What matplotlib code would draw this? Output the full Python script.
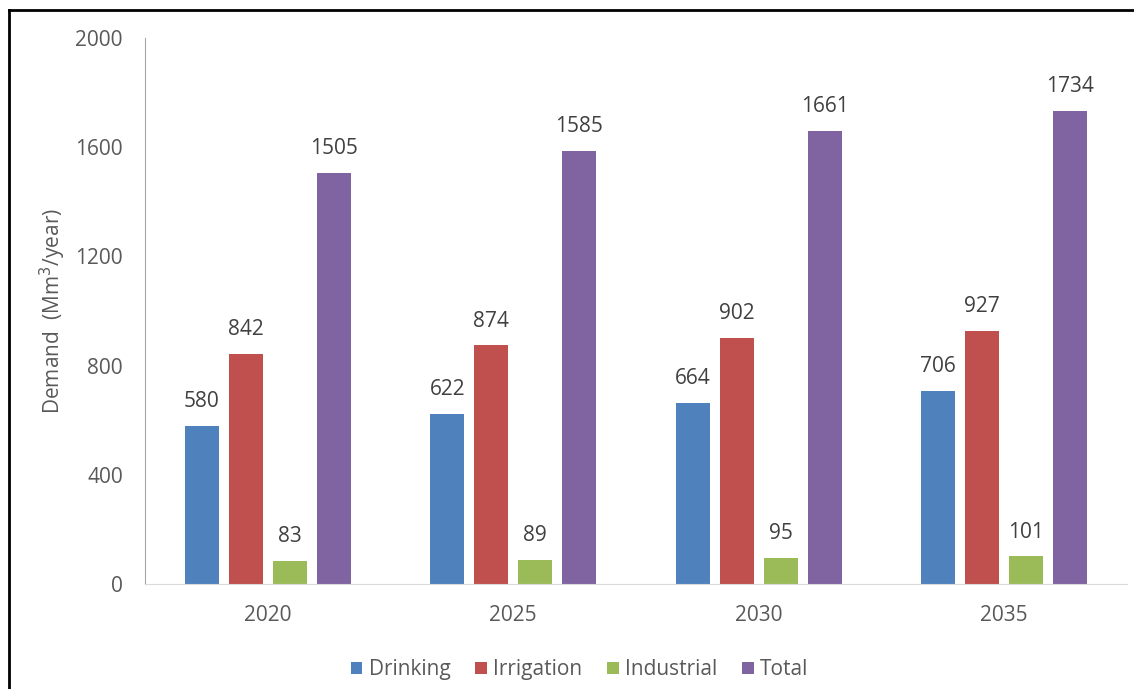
import numpy as np
import matplotlib.pyplot as plt
from matplotlib.lines import Line2D

plt.rcParams['font.family'] = ['Open Sans', 'DejaVu Sans']

# 데이터
years = ['2020', '2025', '2030', '2035']
drinking = [580, 622, 664, 706]
irrigation = [842, 874, 902, 927]
industrial = [83, 89, 95, 101]
total = [1505, 1585, 1661, 1734]

series = [('Drinking', drinking, '#4F81BD'),
          ('Irrigation', irrigation, '#C0504D'),
          ('Industrial', industrial, '#9BBB59'),
          ('Total', total, '#8064A2')]

text_color = '#595959'

fig = plt.figure(figsize=(11.34, 6.89), dpi=100)
ax = fig.add_axes([0.1279, 0.1524, 0.8659, 0.7924])

x = np.arange(len(years))
width = 0.139
step = 0.179
for i, (name, vals, color) in enumerate(series):
    pos = x + (i - 1.5) * step
    bars = ax.bar(pos, vals, width, color=color, label=name)
    for b, v in zip(bars, vals):
        ax.annotate(str(v), (b.get_x() + b.get_width() / 2, v),
                    xytext=(0, 10), textcoords='offset points',
                    ha='center', va='bottom', fontsize=15, color='#404040')

ax.set_xlim(-0.5, 3.5)
ax.set_ylim(0, 2000)
ax.set_yticks([0, 400, 800, 1200, 1600, 2000])
ax.set_xticks(x)
ax.set_xticklabels(years)
ax.tick_params(length=0, labelsize=15, colors=text_color)
ax.tick_params(axis='y', pad=16)
ax.tick_params(axis='x', pad=15)

for s in ['top', 'right']:
    ax.spines[s].set_visible(False)
ax.spines['left'].set_color('#A6A6A6')
ax.spines['bottom'].set_color('#D9D9D9')

ax.set_ylabel('Demand  (Mm$^3$/year)', fontsize=15, color=text_color, labelpad=5)

fig.legend(loc='center', bbox_to_anchor=(0.511, 0.028), ncol=4, frameon=False,
           fontsize=15, handlelength=0.55, handleheight=0.55, handletextpad=0.3,
           columnspacing=1.2, labelcolor=text_color)

# 테두리
fig.add_artist(Line2D([0.0075, 1.0], [0.986, 0.986], color='black', lw=2))
fig.add_artist(Line2D([0.0075, 0.0075], [0.0, 0.986], color='black', lw=2))

plt.savefig('out.png', dpi=100)
